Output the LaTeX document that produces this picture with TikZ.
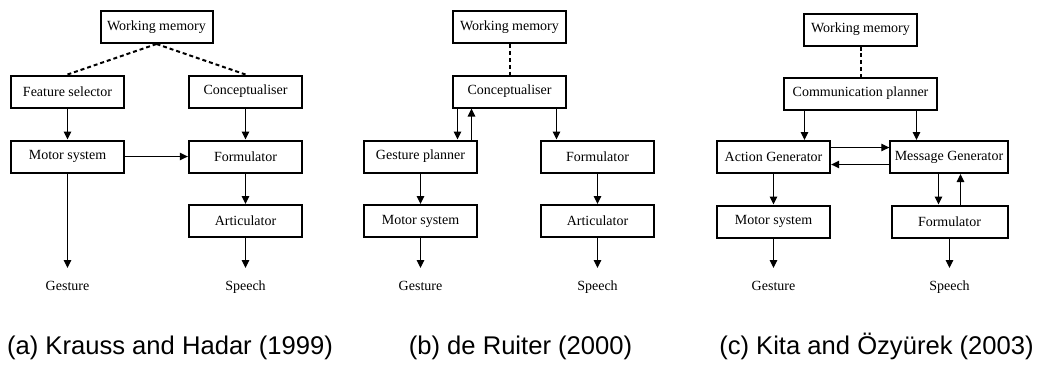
\documentclass[tikz,border=0pt]{standalone}
\usepackage{fontspec}
\setmainfont{Liberation Serif}
\newfontfamily\capfont{Liberation Sans}
\usetikzlibrary{arrows.meta,calc}

\tikzset{
  box/.style={draw, line width=1.5pt, inner sep=0pt, minimum height=24pt,
              font=\fontsize{10.5pt}{12pt}\selectfont},
  lbl/.style={inner sep=0pt, outer sep=9.5pt, text height=7pt, text depth=0pt,
              anchor=base, font=\fontsize{10.5pt}{12pt}\selectfont},
  arr/.style={-{Triangle[length=6pt,width=5.6pt]}, line width=0.9pt},
  memlink/.style={line width=1.5pt, dash pattern=on 3pt off 2.2pt},
  caption/.style={anchor=base, inner sep=0pt, font=\capfont\fontsize{19.2pt}{22pt}\selectfont}
}

\begin{document}
\begin{tikzpicture}[x=0.75pt, y=-0.75pt]
\useasboundingbox (0,0) rectangle (1046,365);

% ---------- (a) Krauss and Hadar ----------
\node[box, minimum width=84pt] (wmA)   at (156.5,27)    {Working memory};
\node[box, minimum width=85pt] (fsA)   at (67.5,91.5)   {Feature selector};
\node[box, minimum width=85pt] (conA)  at (245.5,91.5)  {Conceptualiser};
\node[box, minimum width=85pt] (msA)   at (67.5,156.5)  {Motor system};
\node[box, minimum width=85pt] (formA) at (245.5,156.5) {Formulator};
\node[box, minimum width=85pt] (artA)  at (245.5,221)   {Articulator};
\node[lbl] (gestA)   at (67.5,290)  {Gesture};
\node[lbl] (speechA) at (245.5,290) {Speech};

\draw[memlink] (wmA.south) -- (fsA.north);
\draw[memlink] (wmA.south) -- (conA.north);
\draw[arr] (fsA) -- (msA);
\draw[arr] (conA) -- (formA);
\draw[arr] (formA) -- (artA);
\draw[arr] (msA) -- (formA);
\draw[arr] (msA) -- (gestA);
\draw[arr] (artA) -- (speechA);

% ---------- (b) de Ruiter ----------
\node[box, minimum width=85pt] (wmB)   at (509.5,27)    {Working memory};
\node[box, minimum width=85pt] (conB)  at (509.5,91.5)  {Conceptualiser};
\node[box, minimum width=85pt] (gpB)   at (420.5,156.5) {Gesture planner};
\node[box, minimum width=85pt] (msB)   at (420.5,221)   {Motor system};
\node[box, minimum width=85pt] (formB) at (597.5,156.5) {Formulator};
\node[box, minimum width=85pt] (artB)  at (597.5,221)   {Articulator};
\node[lbl] (gestB)   at (420.5,290) {Gesture};
\node[lbl] (speechB) at (597.5,290) {Speech};

\coordinate (bDown) at ($(conB.south)+(-52,0)$);
\coordinate (bUp)   at ($(gpB.north)+(51,0)$);
\coordinate (bForm) at ($(conB.south)+(47,0)$);

\draw[memlink] (wmB) -- (conB);
\draw[arr] (bDown) -- (bDown |- gpB.north);
\draw[arr] (bUp) -- (bUp |- conB.south);
\draw[arr] (bForm) -- (bForm |- formB.north);
\draw[arr] (gpB) -- (msB);
\draw[arr] (formB) -- (artB);
\draw[arr] (msB) -- (gestB);
\draw[arr] (artB) -- (speechB);

% ---------- (c) Kita and Özyürek ----------
\node[box, minimum width=85pt]  (wmC)   at (860.5,29.5)  {Working memory};
\node[box, minimum width=115pt] (cpC)   at (860.5,93.5)  {Communication planner};
\node[box, minimum width=85pt]  (agC)   at (773.5,157)   {Action Generator};
\node[box, minimum width=88pt]  (mgC)   at (949,157)     {Message Generator};
\node[box, minimum width=85pt]  (msC)   at (773.5,221.5) {Motor system};
\node[box, minimum width=87pt]  (formC) at (949.5,221.5) {Formulator};
\node[lbl] (gestC)   at (773.5,290) {Gesture};
\node[lbl] (speechC) at (949.5,290) {Speech};

\coordinate (cAct)  at ($(cpC.south)+(-56,0)$);
\coordinate (cMsg)  at ($(cpC.south)+(56,0)$);
\coordinate (cRgt)  at ($(agC.east)+(0,-9.5)$);
\coordinate (cLft)  at ($(mgC.west)+(0,7.5)$);
\coordinate (cFDn)  at ($(mgC.south)+(-10.5,0)$);
\coordinate (cFUp)  at ($(formC.north)+(11,0)$);

\draw[memlink] (wmC) -- (cpC);
\draw[arr] (cAct) -- (cAct |- agC.north);
\draw[arr] (cMsg) -- (cMsg |- mgC.north);
\draw[arr] (cRgt) -- (cRgt -| mgC.west);
\draw[arr] (cLft) -- (cLft -| agC.east);
\draw[arr] (agC) -- (msC);
\draw[arr] (cFDn) -- (cFDn |- formC.north);
\draw[arr] (cFUp) -- (cFUp |- mgC.south);
\draw[arr] (formC) -- (speechC);
\draw[arr] (msC) -- (gestC);

% ---------- captions ----------
\node[caption] (capA) at (170,354)   {(a) Krauss and Hadar (1999)};
\node[caption] (capB) at (520.5,354) {(b) de Ruiter (2000)};
\node[caption] (capC) at (876.5,354) {(c) Kita and Özyürek (2003)};
\end{tikzpicture}
\end{document}
